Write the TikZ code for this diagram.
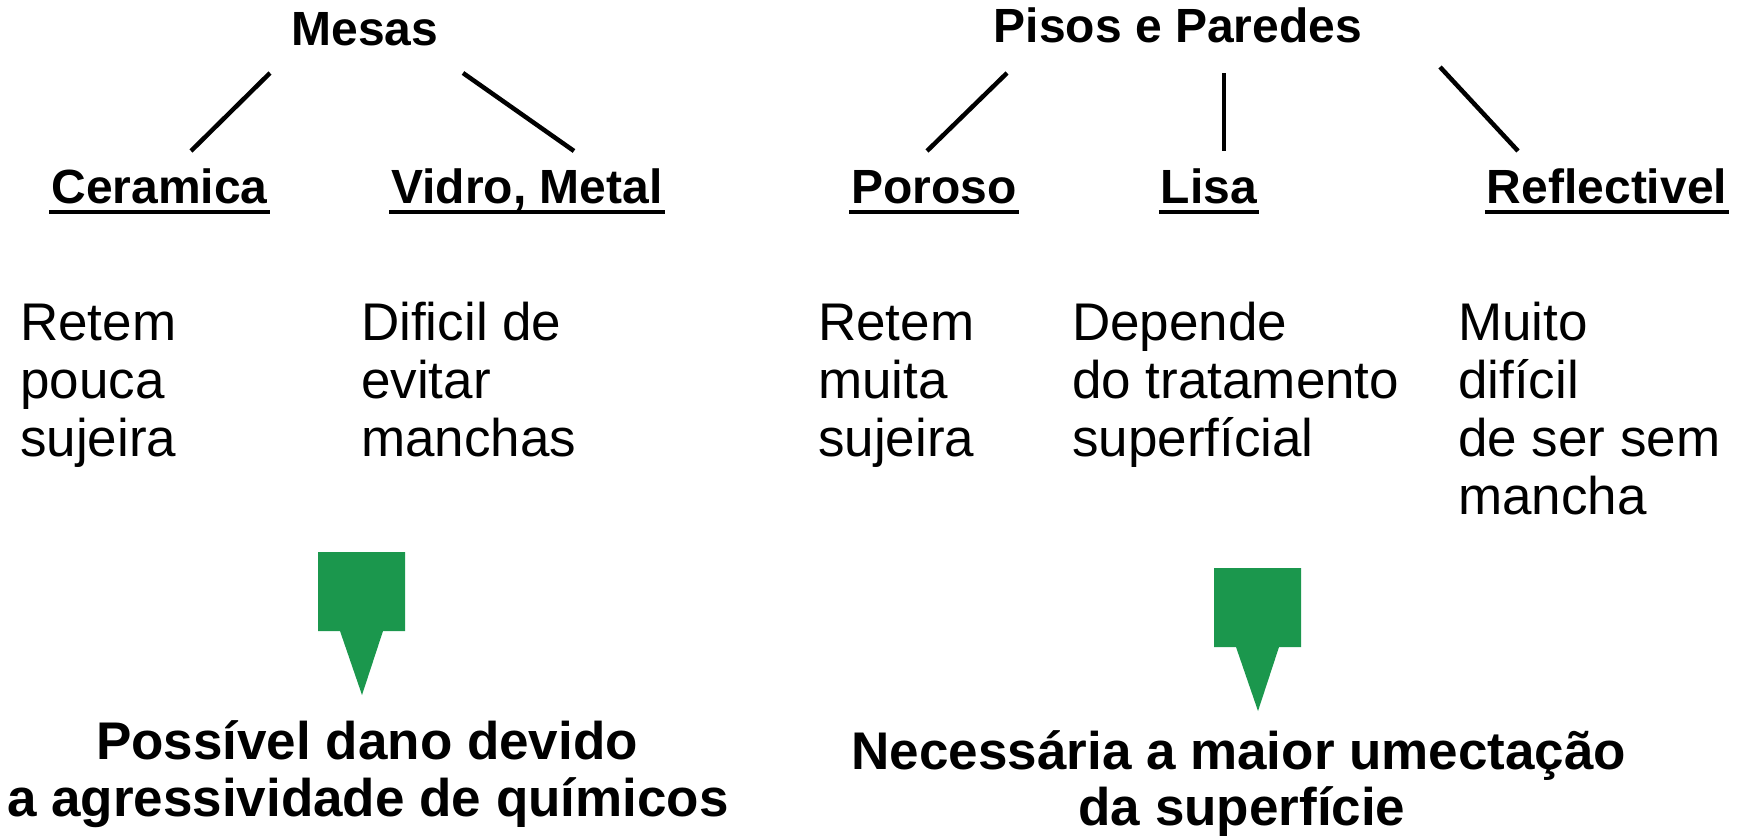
\documentclass[tikz,border=0pt]{standalone}
\usepackage{fontspec}
\setmainfont{Liberation Sans}
\definecolor{arrowgreen}{RGB}{27,151,77}
\begin{document}
\begin{tikzpicture}[x=1pt,y=-1pt,
  title/.style={font=\fontsize{48}{52}\selectfont\bfseries, inner sep=0pt, anchor=base},
  header/.style={font=\fontsize{48}{52}\selectfont\bfseries, inner ysep=0pt, inner xsep=2pt, anchor=base},
  body/.style={font=\fontsize{53}{58}\selectfont, inner sep=0pt, anchor=base west},
  result/.style={font=\fontsize{53}{58}\selectfont\bfseries, inner sep=0pt, anchor=base},
  branch/.style={line width=4.5pt},
  uline/.style={line width=4pt},
  pointer/.style={fill=arrowgreen, draw=none}]
\useasboundingbox (0,0) rectangle (1742,835);

% titles
\node[title] (mesas) at (365,45) {Mesas};
\node[title] (pisos) at (1178,42) {Pisos e Paredes};

% headers
\node[header] (ceramica) at (159.5,203) {Ceramica};
\node[header] (vidro) at (527,203) {Vidro, Metal};
\node[header] (poroso) at (934,203) {Poroso};
\node[header] (lisa) at (1209,203) {Lisa};
\node[header] (reflect) at (1607,203) {Reflectivel};
\foreach \n in {ceramica,vidro,poroso,lisa,reflect}
  \draw[uline] ([yshift=-9pt]\n.base west) -- ([yshift=-9pt]\n.base east);

% branch connectors
\coordinate (m1) at (270,73);  \coordinate (c1) at (191,151);
\coordinate (m2) at (463,73);  \coordinate (v1) at (574,151);
\coordinate (p1) at (1007,73); \coordinate (o1) at (927,151);
\coordinate (p2) at (1224,73); \coordinate (l1) at (1224,151);
\coordinate (p3) at (1440,67); \coordinate (r1) at (1518,151);
\draw[branch] (m1) -- (c1);
\draw[branch] (m2) -- (v1);
\draw[branch] (p1) -- (o1);
\draw[branch] (p2) -- (l1);
\draw[branch] (p3) -- (r1);

% body text
\node[body] (a1) at (20,340) {Retem};
\node[body] (a2) at (20,398) {pouca};
\node[body] (a3) at (20,456) {sujeira};
\node[body] (b1) at (361,340) {Dificil de};
\node[body] (b2) at (361,398) {evitar};
\node[body] (b3) at (361,456) {manchas};
\node[body] (c1t) at (818,340) {Retem};
\node[body] (c2t) at (818,398) {muita};
\node[body] (c3t) at (818,456) {sujeira};
\node[body] (d1) at (1072,340) {Depende};
\node[body] (d2) at (1072,398) {do tratamento};
\node[body] (d3) at (1072,456) {superfícial};
\node[body] (e1) at (1458,340) {Muito};
\node[body] (e2) at (1458,398) {difícil};
\node[body] (e3) at (1458,456) {de ser sem};
\node[body] (e4) at (1458,514) {mancha};

% green pointers
\fill[pointer] (318,552) -- (405,552) -- (405,631) -- (383,631) -- (362,695) -- (340,631) -- (318,631) -- cycle;
\fill[pointer] (1214,568) -- (1301,568) -- (1301,647) -- (1279,647) -- (1258,711) -- (1236,647) -- (1214,647) -- cycle;

% results
\node[result] (r1a) at (367,759) {Possível dano devido};
\node[result] (r1b) at (368,816) {a agressividade de químicos};
\node[result] (r2a) at (1239,769) {Necessária a maior umectação};
\node[result] (r2b) at (1242,825) {da superfície};
\end{tikzpicture}
\end{document}
